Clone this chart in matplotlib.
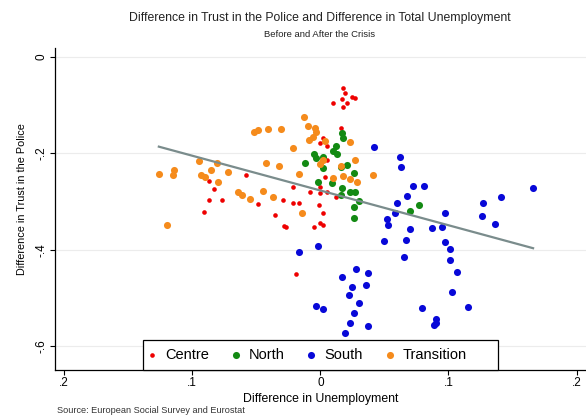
import matplotlib
matplotlib.use("Agg")
import matplotlib.pyplot as plt
from matplotlib.patches import Rectangle
import numpy as np

plt.rcParams['font.family'] = ['Liberation Sans', 'DejaVu Sans']

# data (x = change in unemployment, y = change in trust)
centre_x = [0.018, 0.019, 0.017, 0.025, 0.027, 0.018, 0.021, 0.010, 0.016, 0.002,
            0.000, 0.005, 0.005, 0.004, -0.021, -0.029, -0.021, -0.017, -0.008, 0.000,
            0.000, 0.005, -0.001, 0.002, -0.005, 0.000, 0.002, -0.027, -0.019, -0.087,
            -0.083, -0.087, -0.077, -0.091, -0.058, -0.049, -0.035, -0.028, 0.012]
centre_y = [-0.064, -0.075, -0.087, -0.083, -0.085, -0.104, -0.095, -0.095, -0.147, -0.168,
            -0.179, -0.185, -0.214, -0.249, -0.270, -0.297, -0.303, -0.303, -0.280, -0.270,
            -0.282, -0.280, -0.307, -0.324, -0.353, -0.345, -0.349, -0.353, -0.450, -0.257,
            -0.274, -0.297, -0.297, -0.322, -0.245, -0.305, -0.328, -0.351, -0.291]

north_x = [0.017, 0.018, 0.012, 0.010, 0.013, -0.005, -0.012, -0.003, 0.002, 0.016,
           0.021, 0.026, -0.002, 0.009, 0.017, 0.023, 0.027, 0.016, 0.030, 0.026,
           0.026, 0.077, 0.070, 0.002]
north_y = [-0.158, -0.168, -0.185, -0.195, -0.201, -0.201, -0.220, -0.210, -0.208, -0.228,
           -0.224, -0.241, -0.259, -0.262, -0.272, -0.280, -0.280, -0.286, -0.299, -0.311,
           -0.334, -0.307, -0.320, -0.230]

south_x = [0.042, 0.062, 0.063, 0.072, 0.081, 0.068, 0.060, 0.058, 0.052, 0.053,
           0.070, 0.067, 0.050, 0.065, 0.087, 0.095, 0.097, 0.097, 0.101, 0.101,
           0.107, 0.103, 0.115, 0.079, 0.090, 0.090, 0.089, 0.127, 0.141, 0.166,
           0.126, 0.136, -0.017, -0.002, 0.017, 0.028, 0.037, 0.036, 0.025, 0.022,
           0.030, 0.026, -0.003, 0.002, 0.023, 0.037, 0.019]
south_y = [-0.187, -0.208, -0.228, -0.268, -0.268, -0.289, -0.303, -0.324, -0.336, -0.349,
           -0.357, -0.380, -0.382, -0.415, -0.355, -0.353, -0.324, -0.384, -0.399, -0.421,
           -0.446, -0.488, -0.519, -0.521, -0.544, -0.552, -0.557, -0.303, -0.291, -0.272,
           -0.330, -0.347, -0.405, -0.392, -0.457, -0.440, -0.448, -0.473, -0.477, -0.494,
           -0.511, -0.531, -0.517, -0.523, -0.552, -0.558, -0.573]

trans_x = [-0.126, -0.115, -0.114, -0.095, -0.081, -0.085, -0.093, -0.090, -0.072, -0.080,
           -0.052, -0.049, -0.041, -0.031, -0.021, -0.042, -0.032, -0.064, -0.061, -0.055,
           -0.045, -0.037, -0.120, -0.017, -0.014, -0.013, -0.010, -0.004, -0.003, -0.009,
           -0.006, 0.002, 0.000, 0.016, 0.027, 0.023, 0.010, 0.018, 0.023, 0.029,
           0.041, 0.004]
trans_y = [-0.243, -0.245, -0.235, -0.216, -0.220, -0.235, -0.245, -0.249, -0.239, -0.259,
           -0.156, -0.152, -0.149, -0.149, -0.189, -0.220, -0.226, -0.280, -0.286, -0.295,
           -0.278, -0.291, -0.349, -0.243, -0.324, -0.125, -0.143, -0.147, -0.156, -0.172,
           -0.166, -0.214, -0.222, -0.226, -0.214, -0.176, -0.251, -0.247, -0.253, -0.259,
           -0.245, -0.174]

# linear fit as drawn in the original (intercept, slope)
fit_intercept = -0.277
fit_slope = -0.7226

xticks = [-0.2, -0.1, 0, 0.1, 0.2]
xticklabels = ['.2', '.1', '0', '.1', '.2']
yticks = [0, -0.2, -0.4, -0.6]
yticklabels = ['0', '-.2', '-.4', '-.6']

fig = plt.figure(figsize=(5.86, 4.16), dpi=100)
ax = fig.add_axes([0.0939, 0.1106, 0.9061, 0.774])

ax.scatter(centre_x, centre_y, s=11, color='#ee0000', linewidths=0, label='Centre', zorder=3)
ax.scatter(north_x, north_y, s=26, color='#138a13', linewidths=0, label='North', zorder=3)
ax.scatter(south_x, south_y, s=26, color='#0808d8', linewidths=0, label='South', zorder=3)
ax.scatter(trans_x, trans_y, s=26, color='#f58b1c', linewidths=0, label='Transition', zorder=3)

# fitted line spans the range of the data
all_x = np.array(centre_x + north_x + south_x + trans_x)
xs = np.array([all_x.min(), all_x.max()])
ax.plot(xs, fit_intercept + fit_slope * xs, color='#7a8c8c', lw=1.6, zorder=4)

ax.set_xlim(-0.207, 0.2073)
ax.set_ylim(-0.650, 0.019)
ax.set_xticks(xticks)
ax.set_xticklabels(xticklabels)
ax.set_yticks(yticks)
ax.set_yticklabels(yticklabels, rotation=90, va='center')
ax.tick_params(labelsize=8.5, length=3.6, width=0.8, color='black', pad=1.5)
ax.grid(axis='y', color='#ececec', lw=0.8)
ax.set_axisbelow(True)
for side in ['top', 'right']:
    ax.spines[side].set_visible(False)
for side in ['left', 'bottom']:
    ax.spines[side].set_linewidth(0.9)

ax.set_xlabel('Difference in Unemployment', fontsize=8.8, labelpad=3)
ax.set_ylabel('Difference in Trust in the Police', fontsize=7.8)
ax.yaxis.set_label_coords(-0.052, 0.53)

# legend box (Stata style: wide frame, entries packed to the left)
box = Rectangle((0.1657, 0.0), 0.6685, 0.093, transform=ax.transAxes, facecolor='white',
                edgecolor='black', lw=0.9, zorder=5, clip_on=False)
ax.add_patch(box)
leg = ax.legend(loc='center left', bbox_to_anchor=(0.169, 0.0466), ncol=4,
                fontsize=10.5, frameon=False, handletextpad=0.4, borderpad=0,
                borderaxespad=0, handlelength=1.0, columnspacing=1.33)
leg.set_zorder(6)

fig.text(0.546, 0.957, 'Difference in Trust in the Police and Difference in Total Unemployment',
         ha='center', va='center', fontsize=8.8, color='#222222')
fig.text(0.546, 0.916, 'Before and After the Crisis', ha='center', va='center',
         fontsize=6.8, color='#222222')
fig.text(0.097, 0.003, 'Source: European Social Survey and Eurostat', ha='left', va='bottom',
         fontsize=6.6, color='#333333')

fig.savefig('out.png', dpi=100)
